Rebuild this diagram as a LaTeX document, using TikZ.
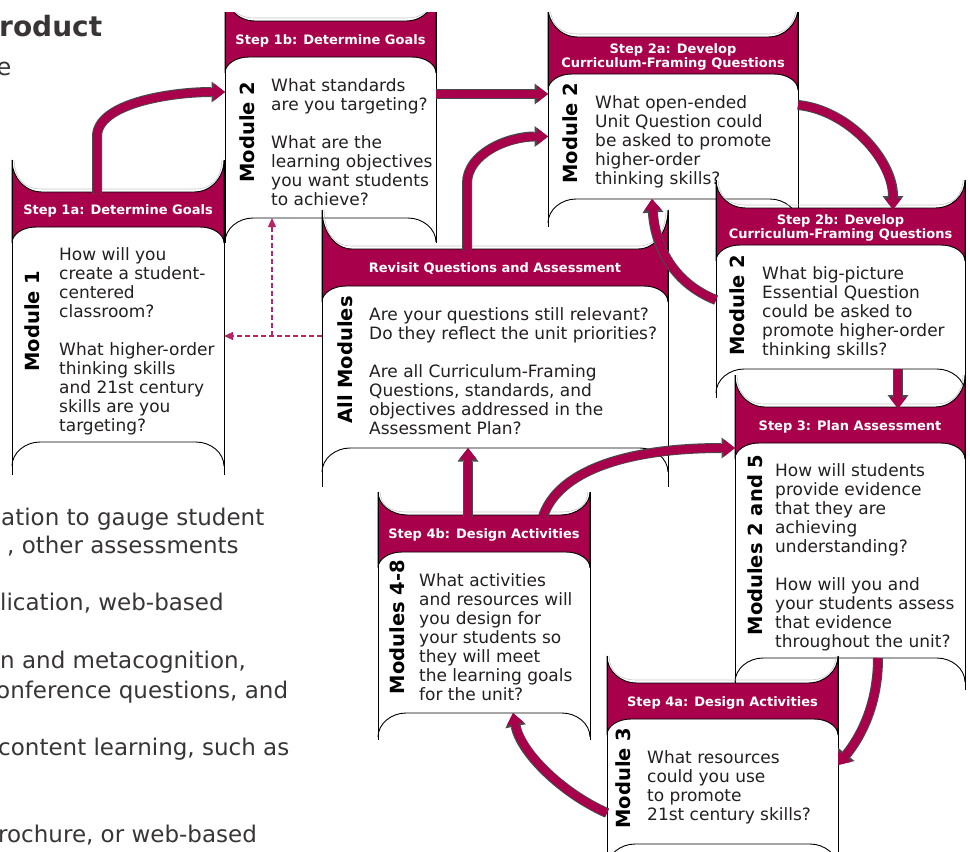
\documentclass[tikz,border=0pt]{standalone}
\usepackage{fontspec}
\setmainfont{DejaVu Sans}
\usetikzlibrary{arrows.meta}
\definecolor{vinaccia}{HTML}{A8004A}
\definecolor{grigio}{HTML}{4A4A4A}
\definecolor{inchiostro}{HTML}{231F20}

\begin{document}
\begin{tikzpicture}[x=1pt, y=-1pt,
        testata/.style={inner sep=0pt, outer sep=0pt, text=white, align=center, yshift=-1.5pt,
            font=\fontsize{13}{14.5}\selectfont\bfseries},
        area/.style={inner sep=0pt, outer sep=0pt},
        modulo/.style={rotate=90, inner sep=0pt, text=black,
            font=\fontsize{19.5}{20}\selectfont\bfseries},
        testo/.style={anchor=north west, inner sep=0pt, align=left, text=inchiostro,
            font=\fontsize{17}{19}\selectfont},
        fondo/.style={anchor=base west, inner sep=0pt, text=inchiostro!90,
            font=\fontsize{23}{28}\selectfont},
        fascia/.style={line width=8pt, draw=vinaccia,
            -{Triangle[length=11pt, width=17pt, line width=0pt]},
            preaction={draw=grigio, line width=10pt,
                -{Triangle[length=13.5pt, width=21pt, line width=0pt]}}},
        tratteggio/.style={draw=vinaccia!85, line width=1.2pt, dash pattern=on 5pt off 3pt,
            -{Triangle[length=9pt, width=8pt]}}]
        \useasboundingbox (0,0) rectangle (970,852);
        \clip (0,0) rectangle (970,852);
        % Testo della pagina sotto lo schema
        \node[fondo, font=\fontsize{28}{30}\selectfont\bfseries] (titolo) at (-1,36) {roduct};
        \node[fondo, font=\fontsize{24}{28}\selectfont] (sottotitolo) at (-3.5,75) {e};
        \foreach \x/\y/\riga in {
                1/525/{ation to gauge student},
                7/553/{, other assessments},
                0/610/{lication, web-based},
                0/668/{n and metacognition,},
                -4/698/{onference questions, and},
                -2/755/{content learning, such as},
                -2/842/{rochure, or web-based}}
            {
                \node[fondo] (r\y) at (\x,\y) {\riga};
            }
        % Schede: lati, testata, corpo
        \begin{scope}
            \clip (0,12) rectangle (970,852);
            \foreach \nome/\sx/\dx/\ya/\yt/\yb/\yc/\yf/\tit in {
                    p1b/225/436/-9/21/57/218/243/{Step 1b: Determine Goals},
                    p2a/548/798/7/37/74/199/227/{Step 2a: Develop\\Curriculum-Framing Questions},
                    p1a/12/224/160/192/227/442/475/{Step 1a: Determine Goals},
                    rev/322/668/210/249/286/448/487/{Revisit Questions and Assessment},
                    p2b/716/965/180/208/245/369/398/{Step 2b: Develop\\Curriculum-Framing Questions},
                    p3/735/965/375/407/443/658/690/{Step 3: Plan Assessment},
                    p4b/378/590/492/515/552/713/740/{Step 4b: Design Activities},
                    p4a/607/838/656/683/719/844/870/{Step 4a: Design Activities}}
                {
                    \fill[white] (\sx,\yb+16) .. controls (\sx,\yb+7) and (\sx+11,\yb) .. (\sx+24,\yb)
                        -- (\dx-24,\yb) .. controls (\dx-11,\yb) and (\dx,\yb+7) .. (\dx,\yb+16)
                        -- (\dx,\yc+24) .. controls (\dx,\yc+11) and (\dx-13,\yc) .. (\dx-28,\yc)
                        -- (\sx+28,\yc) .. controls (\sx+13,\yc) and (\sx,\yc+11) .. (\sx,\yc+24) -- cycle;
                    \filldraw[fill=vinaccia, draw=black, line width=0.9pt]
                        (\sx,\ya) .. controls (\sx,{\ya+0.55*(\yt-\ya)}) and (\sx+13,\yt) .. (\sx+30,\yt)
                        -- (\dx-30,\yt) .. controls (\dx-13,\yt) and (\dx,{\ya+0.55*(\yt-\ya)}) .. (\dx,\ya)
                        -- (\dx,\yb+16) .. controls (\dx,\yb+7) and (\dx-11,\yb) .. (\dx-24,\yb)
                        -- (\sx+24,\yb) .. controls (\sx+11,\yb) and (\sx,\yb+7) .. (\sx,\yb+16) -- cycle;
                    \draw[gray!45, line width=0.6pt]
                        (\sx+2,\ya) .. controls (\sx+3,{\ya+0.6*(\yt-\ya)}) and (\sx+12,\yt-3) .. (\sx+30,\yt-3)
                        -- (\dx-30,\yt-3) .. controls (\dx-12,\yt-3) and (\dx-3,{\ya+0.6*(\yt-\ya)}) .. (\dx-2,\ya);
                    \draw[line width=0.9pt] (\sx,\ya) -- (\sx,\yf) (\dx,\ya) -- (\dx,\yf);
                    \draw[line width=0.9pt] (\sx,\yc+24) .. controls (\sx,\yc+11) and (\sx+13,\yc) .. (\sx+28,\yc)
                        -- (\dx-28,\yc) .. controls (\dx-13,\yc) and (\dx,\yc+11) .. (\dx,\yc+24);
                    \node[testata, minimum width={\dx-\sx}, minimum height={\yb-\yt}]
                        (\nome) at ({(\sx+\dx)/2},{(\yt+\yb)/2}) {\tit};
                    \node[area, minimum width={\dx-\sx}, minimum height={\yc-\yb}]
                        (\nome-c) at ({(\sx+\dx)/2},{(\yb+\yc)/2}) {};
                }
        \end{scope}
        % Moduli
        \node[modulo] (m1a) at (32,321) {Module 1};
        \node[modulo] (m1b) at (247,132) {Module 2};
        \node[modulo] (m2a) at (570,133) {Module 2};
        \node[modulo] (m2b) at (737,305) {Module 2};
        \node[modulo] (mrev) at (345,360) {All Modules};
        \node[modulo] (m3) at (755,545) {Modules 2 and 5};
        \node[modulo] (m4b) at (397,627) {Modules 4-8};
        \node[modulo] (m4a) at (623,778) {Module 3};
        % Domande
        \node[testo] (t1a) at (59,247) {How will you\\create a student-\\centered\\classroom?\\[19pt]What higher-order\\thinking skills\\and 21st century\\skills are you\\targeting?};
        \node[testo] (t1b) at (271,78) {What standards\\are you targeting?\\[19pt]What are the\\learning objectives\\you want students\\to achieve?};
        \node[testo] (t2a) at (595,95) {What open-ended\\Unit Question could\\be asked to promote\\higher-order\\thinking skills?};
        \node[testo] (t2b) at (762,266) {What big-picture\\Essential Question\\could be asked to\\promote higher-order\\thinking skills?};
        \node[testo] (trev) at (369,307) {Are your questions still relevant?\\Do they reflect the unit priorities?\\[19pt]Are all Curriculum-Framing\\Questions, standards, and\\objectives addressed in the\\Assessment Plan?};
        \node[testo] (t3) at (775,463) {How will students\\provide evidence\\that they are\\achieving\\understanding?\\[19pt]How will you and\\your students assess\\that evidence\\throughout the unit?};
        \node[testo] (t4b) at (419,573) {What activities\\and resources will\\you design for\\your students so\\they will meet\\the learning goals\\for the unit?};
        \node[testo] (t4a) at (647,750) {What resources\\could you use\\to promote\\21st century skills?};
        % Frecce
        \coordinate (u1b) at ([yshift=43.5pt]p1b-c.east);
        \coordinate (d3) at ([xshift=48pt]p3.north);
        \coordinate (u4b) at ([xshift=-16pt]p4b.north);
        \draw[fascia] ([xshift=-21pt]p1a.north) -- ++(0,-57) .. controls +(0,-33) and +(-55,0) .. ([yshift=45.5pt]p1b-c.west);
        \draw[fascia] (u1b) -- (u1b -| p2a-c.west);
        \draw[fascia] ([xshift=-28pt]rev.north) -- ++(0,-67) .. controls +(0,-30) and +(-40,0) .. (p2a-c.west);
        \draw[fascia] ([yshift=31.5pt]p2a-c.east) .. controls +(50,5) and +(0,-50) .. ([xshift=52.5pt]p2b.north);
        \draw[fascia] ([yshift=7pt]p2b-c.west) .. controls +(-45,-18) and +(3,45) .. ([xshift=-21pt]p2a-c.south);
        \draw[fascia] (d3 |- p2b-c.south) -- (d3);
        \draw[fascia] ([xshift=59pt]p4b.north) .. controls +(15,-45) and +(-110,0) .. ([yshift=102.5pt]p3-c.west);
        \draw[fascia] (u4b) -- (u4b |- rev-c.south);
        \draw[fascia] ([xshift=28pt]p3-c.south) .. controls +(0,50) and +(20,-25) .. ([yshift=16.5pt]p4a-c.east);
        \draw[fascia] ([yshift=-31.5pt]p4a-c.west) .. controls +(-45,-20) and +(8,40) .. ([xshift=29pt]p4b-c.south);
        % Rimandi tratteggiati
        \coordinate (urev) at ([yshift=31pt]rev-c.west);
        \coordinate (u1bs) at ([xshift=-58.5pt]p1b-c.south);
        \draw[tratteggio] (urev) -- (urev -| p1a-c.east);
        \draw[tratteggio] (u1bs |- urev) -- (u1bs);
    \end{tikzpicture}
\end{document}
